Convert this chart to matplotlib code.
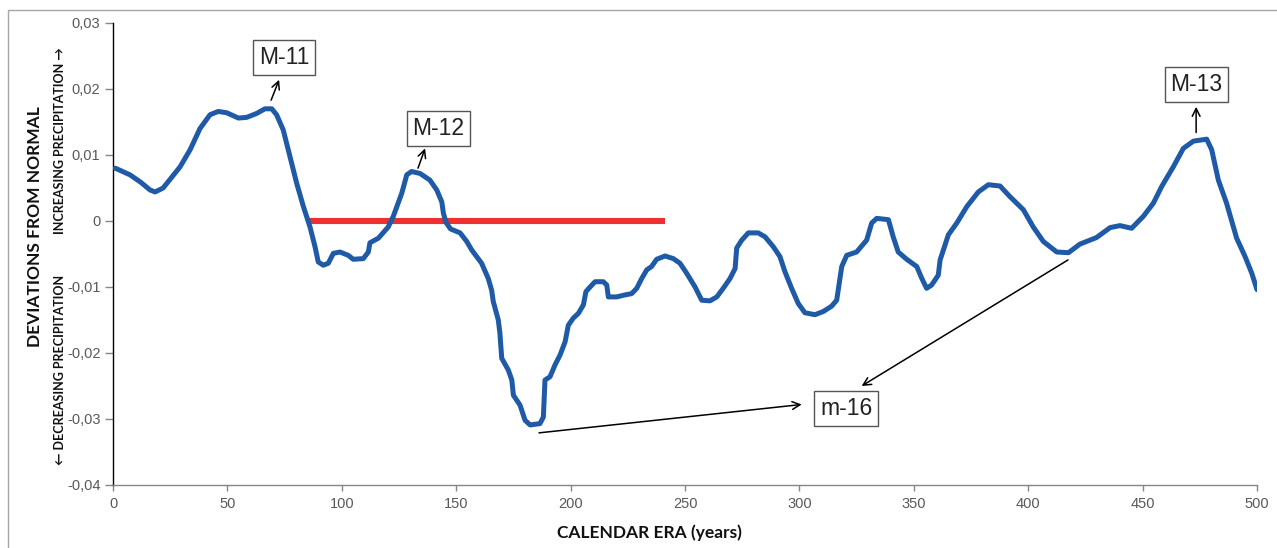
import matplotlib.pyplot as plt
import numpy as np
from matplotlib.patches import Rectangle

# precipitation deviation curve
years = [1, 7.4, 12, 16.2, 18.4, 21.9, 29.3, 33.7, 38.0, 42.4, 46.0, 49.7, 54.8,
         58.4, 62.8, 66.4, 69.4, 71.5, 74.4, 78.1, 80.3, 83.2, 86.1, 88.3, 89.7,
         91.9, 94.1, 96.3, 99.2, 102.8, 105.0, 109.4, 111.6, 112.3, 116.0, 120.3,
         122.5, 126.2, 128.4, 130.5, 134.2, 138.5, 141.5, 143.7, 144.4, 145.5,
         147.5, 151.7, 154.6, 156.8, 161.1, 164.0, 165.5, 166.2, 168.4, 169.1,
         169.9, 172.8, 174.3, 175.0, 177.9, 180.1, 182.3, 186.6, 188.1, 188.8,
         191.0, 193.2, 195.4, 197.6, 199.0, 201.2, 203.4, 205.6, 206.7, 208.5,
         210.7, 214.3, 215.8, 216.5, 220.1, 223.8, 226.7, 228.9, 231.1, 233.3,
         235.4, 237.6, 241.3, 244.9, 247.8, 250.7, 254.4, 257.3, 260.9, 263.9,
         266.7, 269.7, 271.9, 272.6, 274.8, 277.7, 282.0, 285.0, 288.6, 291.5,
         293.7, 296.6, 299.5, 302.4, 306.8, 310.5, 314.1, 316.3, 318.5, 320.7,
         325.0, 329.4, 331.6, 333.8, 338.9, 341.0, 343.2, 346.9, 351.3, 353.5,
         355.6, 357.8, 360.7, 361.5, 365.1, 368.8, 373.2, 378.2, 382.6, 387.7,
         392.0, 397.9, 402.2, 406.6, 412.5, 417.6, 422.6, 429.9, 435.8, 440.1,
         445.2, 450.3, 454.7, 458.3, 463.4, 467.8, 472.2, 478.0, 480.2, 483.1,
         486.7, 491.1, 494.8, 497.7, 500]
deviation = [0.0080, 0.0070, 0.0059, 0.0047, 0.0044, 0.0050, 0.0082, 0.0108, 0.0140,
             0.0161, 0.0166, 0.0164, 0.0156, 0.0157, 0.0163, 0.0170, 0.0170, 0.0161,
             0.0138, 0.0087, 0.0057, 0.0022, -0.0009, -0.0039, -0.0062, -0.0067,
             -0.0064, -0.0049, -0.0047, -0.0052, -0.0058, -0.0057, -0.0047, -0.0033,
             -0.0026, -0.0009, 0.0007, 0.0042, 0.0070, 0.0075, 0.0072, 0.0062, 0.0047,
             0.0029, 0.0012, -0.0002, -0.0012, -0.0018, -0.0031, -0.0044, -0.0064,
             -0.0087, -0.0105, -0.0122, -0.0150, -0.0170, -0.0208, -0.0226, -0.0241,
             -0.0264, -0.0279, -0.0302, -0.0309, -0.0307, -0.0297, -0.0241, -0.0236,
             -0.0218, -0.0203, -0.0183, -0.0158, -0.0147, -0.0140, -0.0127, -0.0107,
             -0.0100, -0.0092, -0.0092, -0.0097, -0.0115, -0.0115, -0.0112, -0.0110,
             -0.0102, -0.0087, -0.0074, -0.0069, -0.0058, -0.0053, -0.0057, -0.0064,
             -0.0079, -0.0100, -0.0120, -0.0121, -0.0115, -0.0102, -0.0087, -0.0072,
             -0.0041, -0.0029, -0.0018, -0.0018, -0.0024, -0.0039, -0.0054, -0.0077,
             -0.0102, -0.0125, -0.0139, -0.0142, -0.0137, -0.0129, -0.0120, -0.0069,
             -0.0052, -0.0047, -0.0029, -0.0003, 0.0004, 0.0002, -0.0024, -0.0047,
             -0.0058, -0.0069, -0.0087, -0.0102, -0.0097, -0.0082, -0.0059, -0.0021,
             -0.0003, 0.0022, 0.0044, 0.0055, 0.0053, 0.0037, 0.0017, -0.0009, -0.0031,
             -0.0047, -0.0048, -0.0035, -0.0025, -0.0010, -0.0007, -0.0011, 0.0007,
             0.0027, 0.0052, 0.0082, 0.0110, 0.0121, 0.0124, 0.0108, 0.0062, 0.0027,
             -0.0026, -0.0054, -0.0079, -0.0104]

# reference segment at zero
ref_years = [85.2, 241.3]
ref_values = [0.0, 0.0]

x_ticks = [0, 50, 100, 150, 200, 250, 300, 350, 400, 450, 500]
y_ticks = [-0.04, -0.03, -0.02, -0.01, 0.0, 0.01, 0.02, 0.03]
y_tick_labels = ["-0,04", "-0,03", "-0,02", "-0,01", "0", "0,01", "0,02", "0,03"]

# label text, box centre, arrow tails and heads
labels = ["M-11", "M-12", "M-13", "m-16"]
label_pos = [(74.7, 0.0248), (142.3, 0.0140), (473.5, 0.0207), (320.4, -0.0284)]
arrows = [((69.1, 0.0183), (72.6, 0.0214)),
          ((133.3, 0.0080), (136.4, 0.0110)),
          ((473.4, 0.0134), (473.4, 0.0173)),
          ((186.2, -0.0321), (301.0, -0.0278)),
          ((417.4, -0.0059), (327.2, -0.0250))]

W, H = 1277, 548
fig = plt.figure(figsize=(W / 100, H / 100), dpi=100)
ax = fig.add_axes([113 / W, 1 - 485 / H, (1257 - 113) / W, (485 - 23) / H])

ax.plot(ref_years, ref_values, color="#ee3030", lw=4.4, solid_capstyle="butt", zorder=2)
ax.plot(years, deviation, color="#1f5aa6", lw=3.6, solid_capstyle="round",
        solid_joinstyle="round", zorder=3)

for txt, (x, y) in zip(labels, label_pos):
    ax.text(x, y, txt, ha="center", va="center", fontsize=16.5, family="Liberation Sans",
            color="#222222",
            bbox=dict(boxstyle="square,pad=0.25", fc="white", ec="#555555", lw=1.0))

for (x0, y0), (x1, y1) in arrows:
    ax.annotate("", xy=(x1, y1), xytext=(x0, y0),
                arrowprops=dict(arrowstyle="->", color="black", lw=1.1,
                                mutation_scale=14, shrinkA=0, shrinkB=0))

ax.set_xlim(0, 500)
ax.set_ylim(-0.04, 0.03)
ax.set_xticks(x_ticks)
ax.set_xticklabels([str(v) for v in x_ticks])
ax.set_yticks(y_ticks)
ax.set_yticklabels(y_tick_labels)

for sp in ["top", "right"]:
    ax.spines[sp].set_visible(False)
ax.spines["left"].set_color("black")
ax.spines["left"].set_linewidth(1.0)
ax.spines["bottom"].set_color("#868686")
ax.spines["bottom"].set_linewidth(1.0)
ax.tick_params(axis="y", length=6, width=1, color="#868686", pad=3,
               labelsize=10.5, labelcolor="#595959")
ax.tick_params(axis="x", length=4, width=1, color="#868686", pad=5,
               labelsize=10.5, labelcolor="#595959")
for lab in ax.get_xticklabels() + ax.get_yticklabels():
    lab.set_family("Liberation Sans")

bold = ["Lato", "DejaVu Sans"]
fig.text(35 / W, 1 - 227 / H, "DEVIATIONS FROM NORMAL", rotation=90, ha="center",
         va="center", fontsize=12.5, fontweight="bold", family=bold, color="#111111")
fig.text(60 / W, 1 - 141 / H, "INCREASING PRECIPITATION \u2192", rotation=90,
         ha="center", va="center", fontsize=9, fontweight="bold", family=bold,
         color="#111111")
fig.text(60 / W, 1 - 370 / H, "\u2190 DECREASING PRECIPITATION", rotation=90,
         ha="center", va="center", fontsize=9, fontweight="bold", family=bold,
         color="#111111")
fig.text(649 / W, 1 - 533 / H, "CALENDAR ERA (years)", ha="center", va="center",
         fontsize=12.5, fontweight="bold", family=bold, color="#111111")

# outer chart frame (runs off the right and bottom edges)
fig.patches.append(Rectangle((7.5 / W, -0.2), 1.2, 1.2 - 9.5 / H,
                             transform=fig.transFigure, fill=False,
                             ec="#a6a6a6", lw=1.0))

fig.savefig("out.png", dpi=100)
